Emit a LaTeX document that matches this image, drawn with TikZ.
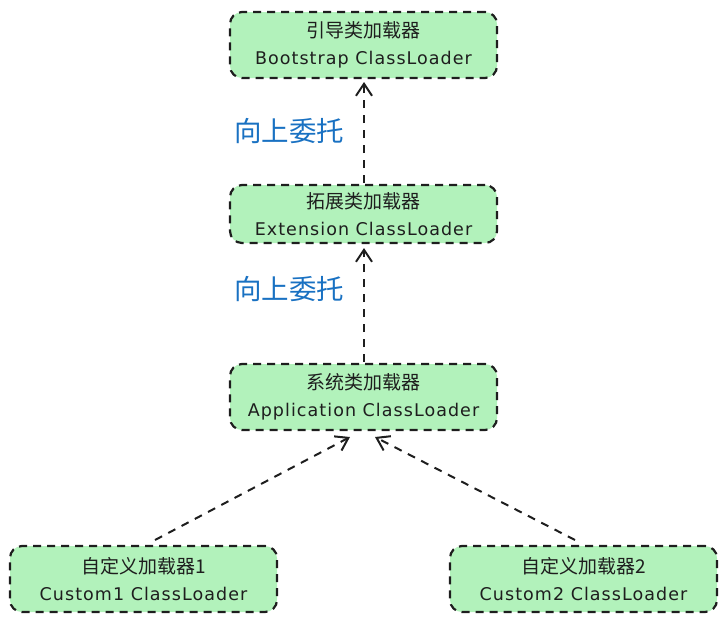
\documentclass[tikz,border=0pt]{standalone}
\usepackage{fontspec}
\setmainfont[LetterSpace=6]{DejaVu Sans}
\newfontfamily\cjk{Noto Sans CJK SC}
\usetikzlibrary{arrows.meta}
\definecolor{boxfill}{HTML}{B2F2BB}
\definecolor{inkline}{HTML}{1E1E1E}
\definecolor{delegblue}{HTML}{1971C2}
\newcommand{\zh}[1]{{\cjk\fontsize{19}{26}\selectfont #1}}
\begin{document}
\begin{tikzpicture}[x=1pt,y=-1pt,
  loader/.style={draw=inkline, fill=boxfill, line width=2.2pt, dash pattern=on 8pt off 6pt,
    rounded corners=12pt, minimum width=267pt, align=center, font=\fontsize{17.5}{27}\selectfont, text=inkline},
  conn/.style={draw=inkline, line width=2pt, dash pattern=on 8pt off 7pt,
    -{Straight Barb[length=12pt,width=16pt,line width=2pt]}},
  lbl/.style={text=delegblue, font=\cjk\fontsize{27.5}{30}\selectfont}]
\useasboundingbox (0,0) rectangle (728,625);
\node[loader, minimum height=66pt] (boot) at (363.5,45) {\zh{引导类加载器}\\Bootstrap ClassLoader};
\node[loader, minimum height=58pt] (ext) at (363.5,214) {\zh{拓展类加载器}\\Extension ClassLoader};
\node[loader, minimum height=66pt] (app) at (363.5,397) {\zh{系统类加载器}\\Application ClassLoader};
\node[loader, minimum height=66pt] (c1) at (143.5,579) {\zh{自定义加载器1}\\Custom1 ClassLoader};
\node[loader, minimum height=66pt] (c2) at (583.5,579) {\zh{自定义加载器2}\\Custom2 ClassLoader};
\coordinate (bootin) at (364,82);
\coordinate (extout) at (364,183);
\coordinate (extin) at (364,248);
\coordinate (appout) at (364,362);
\coordinate (appinl) at (350,437);
\coordinate (appinr) at (375,437);
\coordinate (c1out) at (155,540);
\coordinate (c2out) at (575,540);
\draw[conn] (extout) -- (bootin);
\draw[conn] (appout) -- (extin);
\draw[conn] (c1out) -- (appinl);
\draw[conn] (c2out) -- (appinr);
\node[lbl] (d1) at (289,131) {向上委托};
\node[lbl] (d2) at (289,289) {向上委托};
\end{tikzpicture}
\end{document}
